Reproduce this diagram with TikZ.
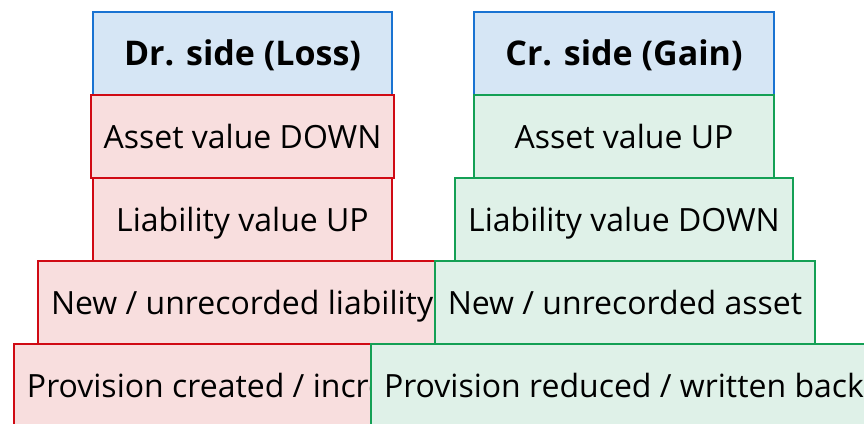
\documentclass[tikz,border=0pt]{standalone}
\usepackage{fontspec}
\setmainfont{Open Sans}
\definecolor{hdrfill}{RGB}{214,230,245}
\definecolor{hdrline}{RGB}{25,115,210}
\definecolor{lossfill}{RGB}{248,222,222}
\definecolor{lossline}{RGB}{208,10,20}
\definecolor{gainfill}{RGB}{223,241,232}
\definecolor{gainline}{RGB}{20,160,85}
\begin{document}
\begin{tikzpicture}[x=1pt,y=-1pt,
  box/.style={draw, line width=2pt, rectangle, inner ysep=0pt, inner xsep=0pt,
    minimum height=83pt, anchor=north west, text height=23pt, text depth=0pt,
    font=\fontsize{32}{38}\selectfont},
  hdr/.style={box, draw=hdrline, fill=hdrfill, text height=24pt, font=\bfseries\fontsize{34}{40}\selectfont},
  loss/.style={box, draw=lossline, fill=lossfill},
  gain/.style={box, draw=gainline, fill=gainfill},
  openbox/.style={inner xsep=13pt}
]
\useasboundingbox (0,0) rectangle (864,423);
\clip (0,0) rectangle (864,423);
% Dr. side
\node[hdr, minimum width=299pt] (drh) at (92,11) {Dr. side (Loss)};
\node[loss, minimum width=303pt] (ad) at (90,94) {Asset value DOWN};
\node[loss, minimum width=299pt] (lu) at (92,177) {Liability value UP};
\node[loss, openbox] (nl) at (37,260) {New / unrecorded liability};
% Cr. side
\node[hdr, minimum width=300pt] (crh) at (473,11) {Cr. side (Gain)};
\node[gain, minimum width=300pt] (au) at (473,94) {Asset value UP};
\node[gain, minimum width=338pt] (ld) at (454,177) {Liability value DOWN};
\node[gain, minimum width=380pt] (na) at (434,260) {New / unrecorded asset};
% bottom row
\node[loss, openbox] (pc) at (13,343) {Provision created / increased};
\node[gain, openbox] (pr) at (370,343) {Provision reduced / written back};
\end{tikzpicture}
\end{document}
